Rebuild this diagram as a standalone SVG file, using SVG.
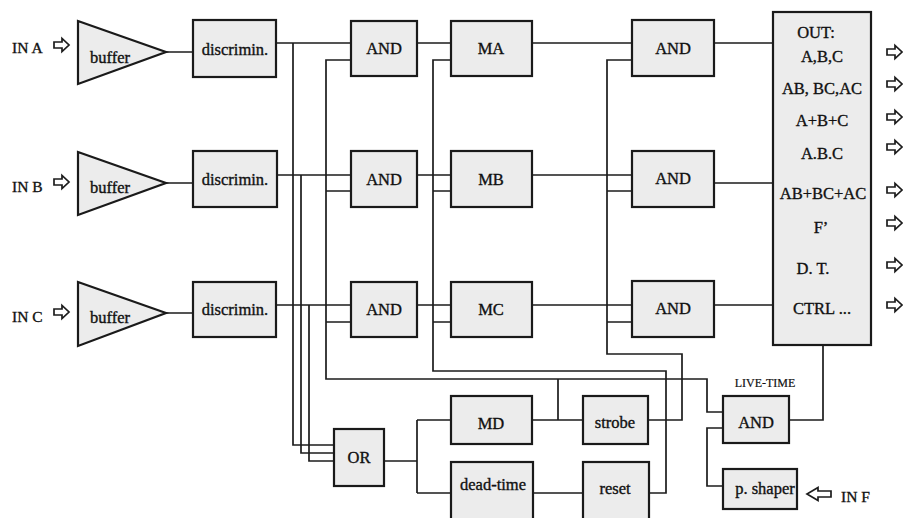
<svg xmlns="http://www.w3.org/2000/svg" width="903" height="518" viewBox="0 0 903 518">
<style>
.box{fill:#ececec;stroke:#1a1a1a;stroke-width:2.2}
.ln{fill:none;stroke:#1c1c1c;stroke-width:1.7}
text{font-family:'Liberation Serif','DejaVu Serif',serif;fill:#111;stroke:#111;stroke-width:0.35}
.t{font-size:16.5px;text-anchor:middle}
.l{font-size:15.5px}
.s{font-size:12px;text-anchor:middle;stroke-width:0.2}
.ar{fill:#fff;stroke:#1c1c1c;stroke-width:1.7;stroke-linejoin:miter}
</style>
<defs>
<polygon id="arR" class="ar" points="0,-3 8,-3 8,-6.5 15,0 8,6.5 8,3 0,3"/>
<polygon id="arL" class="ar" points="24,-3 11,-3 11,-6.5 0,0 11,6.5 11,3 24,3"/>
</defs>
<rect width="903" height="518" fill="#fff"/>

<g id="connectors">
<path class="ln" d="M166,52H193M166,183H193M166,313H193"/>
<path class="ln" d="M276,43H351M293,43V445H334M277,175H351M301,175V453H334M276,305H351M309,305V461H334"/>
<path class="ln" d="M351,60H326V379H707V412H723M326,191H351M326,322H351M558,379V420"/>
<path class="ln" d="M417,43H451M417,175H451M417,305H451"/>
<path class="ln" d="M451,60H433V371H666V493H649M433,191H451M433,322H451"/>
<path class="ln" d="M532,43H632M532,175H632M532,305H632"/>
<path class="ln" d="M648,420H682V354H607V60H632M607,191H632M607,322H632"/>
<path class="ln" d="M714,43H773M714,183H773M714,305H773"/>
<path class="ln" d="M384,461H417M417,420V493M417,420H451M417,493H451"/>
<path class="ln" d="M532,420H583M533,493H583"/>
<path class="ln" d="M789,420H823V345"/>
<path class="ln" d="M723,486H707V428H723"/>
</g>

<g id="inA"><text class="l" x="12" y="52.5">IN A</text><use href="#arR" x="54" y="45"/></g>
<g id="inB"><text class="l" x="12" y="192">IN B</text><use href="#arR" x="54" y="182"/></g>
<g id="inC"><text class="l" x="12" y="322">IN C</text><use href="#arR" x="54" y="312"/></g>

<g id="bufferA"><polygon class="box" points="78,21 166,52 78,84"/><text class="t" x="110" y="62.5">buffer</text></g>
<g id="bufferB"><polygon class="box" points="78,152 166,183 78,215"/><text class="t" x="110" y="192.5">buffer</text></g>
<g id="bufferC"><polygon class="box" points="78,282 166,313 78,346"/><text class="t" x="110" y="322.5">buffer</text></g>

<g id="discA"><rect class="box" x="193" y="20" width="83" height="57"/><text class="t" x="235" y="54.5">discrimin.</text></g>
<g id="discB"><rect class="box" x="193" y="151" width="84" height="56"/><text class="t" x="235" y="184.5">discrimin.</text></g>
<g id="discC"><rect class="box" x="193" y="282" width="83" height="55"/><text class="t" x="235" y="315">discrimin.</text></g>

<g id="andA"><rect class="box" x="351" y="21" width="66" height="55"/><text class="t" x="384" y="53.5">AND</text></g>
<g id="andB"><rect class="box" x="351" y="151" width="66" height="56"/><text class="t" x="384" y="184.5">AND</text></g>
<g id="andC"><rect class="box" x="351" y="282" width="66" height="55"/><text class="t" x="384" y="314.5">AND</text></g>

<g id="MA"><rect class="box" x="451" y="21" width="81" height="55"/><text class="t" x="491" y="53.5">MA</text></g>
<g id="MB"><rect class="box" x="451" y="151" width="81" height="56"/><text class="t" x="491" y="184.5">MB</text></g>
<g id="MC"><rect class="box" x="451" y="282" width="81" height="55"/><text class="t" x="491" y="314.5">MC</text></g>

<g id="andOutA"><rect class="box" x="632" y="20" width="82" height="56"/><text class="t" x="673" y="53.5">AND</text></g>
<g id="andOutB"><rect class="box" x="632" y="151" width="82" height="56"/><text class="t" x="673" y="183.5">AND</text></g>
<g id="andOutC"><rect class="box" x="632" y="281" width="82" height="56"/><text class="t" x="673" y="313.5">AND</text></g>

<g id="out">
<rect class="box" x="773" y="12" width="98" height="333"/>
<text class="t" x="816" y="37.5">OUT:</text>
<text class="t" x="822" y="61.5">A,B,C</text>
<text class="t" x="822" y="93.5">AB, BC,AC</text>
<text class="t" x="822" y="126">A+B+C</text>
<text class="t" x="822" y="158.5">A.B.C</text>
<text class="t" x="823" y="198.5">AB+BC+AC</text>
<text class="t" x="821" y="232.5">F’</text>
<text class="t" x="813" y="273.5">D. T.</text>
<text class="t" x="822" y="313.5">CTRL ...</text>
<use href="#arR" x="887" y="52"/>
<use href="#arR" x="887" y="84"/>
<use href="#arR" x="887" y="117"/>
<use href="#arR" x="887" y="147"/>
<use href="#arR" x="887" y="190"/>
<use href="#arR" x="887" y="223"/>
<use href="#arR" x="887" y="265"/>
<use href="#arR" x="887" y="305"/>
</g>

<g id="OR"><rect class="box" x="334" y="429" width="50" height="57"/><text class="t" x="359" y="462.5">OR</text></g>
<g id="MD"><rect class="box" x="451" y="396" width="81" height="48"/><text class="t" x="491" y="429">MD</text></g>
<g id="deadtime"><rect class="box" x="451" y="462" width="82" height="60"/><text class="t" x="493" y="490">dead-time</text></g>
<g id="strobe"><rect class="box" x="583" y="396" width="65" height="48"/><text class="t" x="615" y="428">strobe</text></g>
<g id="reset"><rect class="box" x="583" y="462" width="66" height="60"/><text class="t" x="615" y="494">reset</text></g>

<g id="liveAnd"><text class="s" x="765" y="387">LIVE-TIME</text><rect class="box" x="723" y="396" width="66" height="47"/><text class="t" x="756" y="428">AND</text></g>
<g id="pshaper"><rect class="box" x="723" y="469" width="74" height="40"/><text class="t" x="765" y="494">p. shaper</text></g>
<g id="inF"><use href="#arL" x="807" y="494"/><text class="l" x="841" y="502">IN F</text></g>
</svg>
